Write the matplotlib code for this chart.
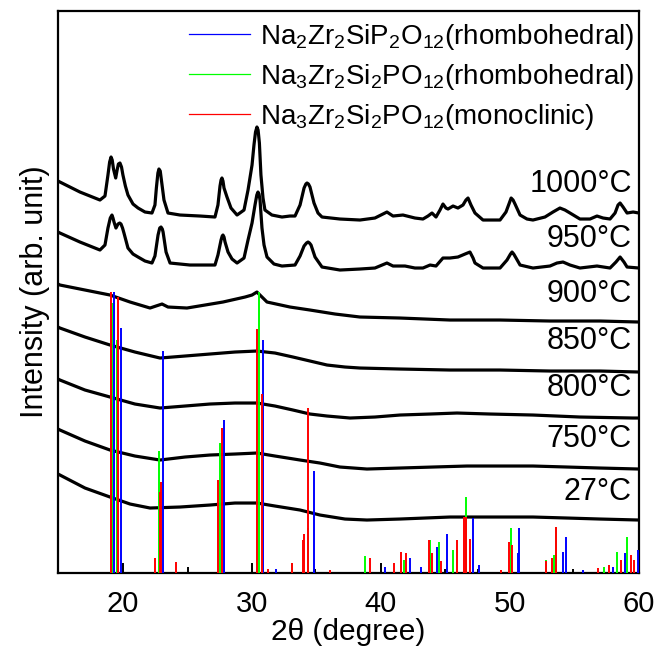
import matplotlib
matplotlib.use("Agg")
import matplotlib.pyplot as plt

plt.rcParams['font.family'] = ['Liberation Sans', 'DejaVu Sans']
plt.rcParams['mathtext.fontset'] = 'custom'
plt.rcParams['mathtext.rm'] = 'Liberation Sans'
plt.rcParams['mathtext.default'] = 'regular'

# ---------------- measured XRD traces (2theta, intensity in arb. units incl. offset) ----------------
x_1000 = [15.00, 15.15, 16.70, 18.25, 18.64, 18.87, 19.00, 19.11, 19.20, 19.30, 19.47, 19.58, 19.68, 19.80,
          19.92, 20.03, 20.22, 20.42, 20.81,
          21.20, 21.74, 22.28, 22.51, 22.62, 22.74, 22.82, 22.92, 23.02, 23.21, 23.52, 24.45, 26.00, 27.16, 27.39,
          27.55, 27.63, 27.70, 27.78, 27.86, 28.09, 28.40, 28.87, 29.41, 29.72, 30.03, 30.18, 30.30, 30.41,
          30.50, 30.60, 30.72, 30.88, 31.03,
          31.57, 32.35, 32.97, 33.36, 33.75, 34.06, 34.20, 34.29, 34.40, 34.52, 34.83, 35.14, 35.45, 36.84,
          38.39, 39.55,
          40.48, 40.95, 41.72, 42.65, 43.27, 43.66, 43.97, 44.28, 44.59, 44.82, 45.05, 45.21, 45.60, 45.98,
          46.37, 46.60, 46.76, 46.99, 47.30, 47.92, 49.24, 49.70, 49.93, 50.10, 50.25, 50.40, 50.79, 51.33,
          51.79, 52.72, 53.34, 53.88, 54.27, 54.66, 55.43, 56.21, 56.75, 57.22, 57.76, 58.15, 58.38, 58.54,
          58.77, 59.08, 59.55, 60.00]
y_1000 = [392, 391, 381, 373, 377, 398, 411, 416, 413, 404, 395, 403, 409, 410,
          406, 398, 387, 378, 369,
          365, 361, 360, 368, 385, 400, 404, 402, 392, 373, 360, 358, 357, 356, 368,
          387, 393, 395, 392, 385, 376, 365, 358, 363, 383, 408, 428, 441, 446,
          443, 430, 398, 375, 363,
          358, 356, 357, 357, 368, 385, 389, 390, 389, 386, 370, 360, 356, 354,
          353, 355,
          361, 357, 358, 355, 354, 357, 360, 356, 363, 369, 365, 364, 367, 365,
          368, 373, 375, 368, 360, 353, 353, 361, 369, 375, 373, 369, 358, 354,
          353, 356, 361, 365, 363, 360, 354, 354, 357, 355, 354, 360, 368, 370,
          366, 360, 361, 360]

x_950 = [15.00, 15.15, 16.70, 18.25, 18.64, 18.87, 19.05, 19.18, 19.26, 19.34, 19.49, 19.65, 19.78, 19.88,
         20.00, 20.11, 20.42, 20.81,
         21.20, 21.74, 22.28, 22.51, 22.75, 22.88, 22.98, 23.08, 23.14, 23.37, 23.68, 25.22, 27.16, 27.39,
         27.63, 27.72, 27.78, 27.86, 27.94, 28.17, 28.48, 28.87, 29.41, 29.72, 30.03, 30.26, 30.40, 30.49,
         30.57, 30.65, 30.80, 30.96, 31.19, 31.73,
         32.35, 33.36, 33.75, 34.06, 34.25, 34.37, 34.48, 34.60, 34.91, 35.45, 36.84, 38.39, 39.55, 40.48,
         40.95, 41.88,
         42.65, 43.27, 43.82, 44.28, 44.82, 45.36, 45.98, 46.53, 46.91, 47.15, 47.30, 47.92, 49.24, 49.78,
         50.05, 50.17, 50.30, 50.48, 50.79, 51.79, 53.11, 53.65, 54.12, 54.66, 55.43, 56.75, 57.76, 58.22,
         58.54, 58.84, 59.08, 60.00]
y_950 = [341, 340, 331, 323, 328, 345, 355, 358, 355, 351, 345, 349, 350, 349,
         345, 340, 325, 319,
         316, 312, 310, 317, 338, 345, 346, 344, 341, 321, 310, 308, 308, 318,
         333, 337, 338, 336, 331, 321, 314, 310, 315, 333, 350, 368, 378, 381,
         379, 373, 345, 328, 316, 309,
         307, 308, 317, 327, 330, 331, 330, 328, 316, 306, 303, 304, 305, 310,
         307, 307,
         305, 305, 308, 307, 315, 315, 316, 319, 321, 315, 310, 305, 305, 313,
         319, 321, 319, 315, 308, 305, 307, 310, 311, 308, 305, 307, 305, 311,
         316, 311, 306, 305]

x_900 = [15.00, 15.15, 17.09, 19.03, 20.58, 22.13, 22.59, 23.06, 23.52, 24.99, 26.39, 27.78, 29.49, 30.03,
         30.41, 30.80, 31.19, 32.97, 34.52, 36.46, 38.39, 41.49, 45.36, 49.24, 53.11, 56.98, 60.00]
y_900 = [289, 288, 283, 278, 271, 265, 267, 269, 266, 265, 268, 271, 276, 278,
         281, 276, 271, 266, 263, 259, 256, 255, 253, 253, 252, 252, 251]

x_850 = [15.00, 15.15, 17.09, 19.03, 20.96, 22.90, 24.84, 26.77, 28.71, 30.41, 31.81, 33.20, 34.52, 35.84,
         37.23, 38.39, 41.49, 45.36, 49.24, 53.11, 56.98, 60.00]
y_850 = [246, 245, 236, 228, 221, 215, 217, 219, 221, 222, 220, 216, 212, 208,
         206, 205, 204, 203, 203, 202, 202, 201]

x_800 = [15.00, 15.15, 17.09, 19.03, 20.96, 22.90, 24.84, 26.77, 28.71, 30.41, 31.81, 33.20, 34.52, 35.84,
         37.62, 39.55, 41.49, 43.82, 45.91, 48.46, 51.79, 55.43, 59.54, 60.00]
y_800 = [194, 193, 183, 176, 169, 165, 167, 169, 170, 170, 167, 163, 159, 157,
         155, 156, 158, 159, 160, 159, 158, 156, 155, 155]

x_750 = [15.00, 15.15, 17.09, 19.03, 20.96, 22.90, 24.84, 26.77, 28.71, 30.41, 31.81, 33.75, 35.29, 36.84,
         38.93, 41.49, 44.05, 46.68, 49.24, 51.79, 54.43, 56.98, 60.00]
y_750 = [144, 143, 132, 123, 117, 113, 116, 118, 119, 120, 117, 113, 110, 106,
         104, 105, 106, 107, 107, 107, 106, 105, 104]

x_27 = [15.00, 15.15, 17.09, 19.03, 20.58, 22.13, 24.45, 26.77, 28.71, 30.41, 31.81, 33.75, 35.29, 37.23,
        38.93, 41.49, 45.36, 49.24, 51.79, 54.43, 56.98, 60.00]
y_27 = [99, 98, 85, 76, 69, 65, 66, 68, 70, 70, 67, 63, 58, 54,
        53, 54, 56, 56, 56, 55, 54, 53]

trace_labels = ['1000°C', '950°C', '900°C', '850°C', '800°C', '750°C', '27°C']
label_y = [389, 334, 279, 232, 185, 134, 81]

# ---------------- reference patterns (2theta, relative intensity) ----------------
blue_pos = [19.36, 19.90, 23.10, 27.86, 30.88, 31.9, 34.83, 40.3, 42.3, 43.1, 44.33, 45.15, 47.17, 47.6,
            50.6, 50.71, 54.10, 54.35, 55.7, 58.0, 58.9, 59.90]
blue_h = [281, 245, 222, 153, 233, 4, 102, 6, 15, 6, 26, 39, 55, 8,
          20, 45, 21, 36, 3, 6, 20, 23]

green_pos = [19.20, 19.60, 22.82, 27.55, 30.55, 33.10, 34.40, 38.78, 41.80, 43.85, 44.54, 45.60, 46.58,
             50.11, 52.80, 53.40, 53.60, 57.3, 58.30, 59.10]
green_h = [270, 233, 122, 130, 281, 10, 45, 17, 13, 33, 31, 23, 76,
           45, 13, 18, 46, 6, 21, 36]

red_pos = [19.10, 19.67, 22.50, 22.90, 22.98, 24.14, 27.42, 27.68, 30.44, 30.78, 31.3, 33.10, 33.95, 34.05,
           34.34, 36.1, 39.17, 41.00, 41.54, 41.96, 43.76, 44.00, 44.70, 45.90, 46.45, 46.62, 46.90, 49.3,
           49.96, 50.20, 52.80, 53.30, 53.55, 56.8, 57.7, 58.6, 59.40, 59.60]
red_h = [281, 276, 15, 81, 91, 11, 93, 145, 244, 179, 4, 10, 33, 39,
         165, 3, 15, 10, 21, 20, 33, 20, 12, 33, 56, 56, 34, 3,
         31, 28, 12, 15, 46, 5, 8, 13, 18, 13]

black_pos = [20.06, 25.04, 30.00, 34.90, 40.00, 45.00, 47.50, 54.90]
black_h = [10, 6, 10, 4, 10, 4, 4, 4]

phase_labels = [r'Na$_2$Zr$_2$SiP$_2$O$_{12}$(rhombohedral)',
                r'Na$_3$Zr$_2$Si$_2$PO$_{12}$(rhombohedral)',
                r'Na$_3$Zr$_2$Si$_2$PO$_{12}$(monoclinic)']

# ---------------- plotting ----------------
fig = plt.figure(figsize=(6.56, 6.48), dpi=100)
ax = fig.add_axes([0.0884, 0.1157, 0.8856, 0.8673])

traces = [(x_1000, y_1000), (x_950, y_950), (x_900, y_900), (x_850, y_850),
          (x_800, y_800), (x_750, y_750), (x_27, y_27)]
for (xs, ys) in traces:
    ax.plot(xs, ys, color='black', lw=2.3, solid_joinstyle='round', zorder=2)

ax.vlines(black_pos, 0, black_h, color='black', lw=1.4, zorder=3)
ax.vlines(green_pos, 0, green_h, color='#00ff00', lw=1.4, zorder=3)
ax.vlines(blue_pos, 0, blue_h, color='#0000ff', lw=1.4, zorder=3)
ax.vlines(red_pos, 0, red_h, color='#ff0000', lw=1.4, zorder=3)

h1, = ax.plot([], [], color='#0000ff', lw=0.9)
h2, = ax.plot([], [], color='#00ff00', lw=0.9)
h3, = ax.plot([], [], color='#ff0000', lw=0.9)
ax.legend([h1, h2, h3], phase_labels, loc='upper right', bbox_to_anchor=(1.021, 1.01),
          frameon=False, fontsize=20, handlelength=2.2, handletextpad=0.35, labelspacing=0.36,
          borderaxespad=0.2)

for lab, yy in zip(trace_labels, label_y):
    ax.text(59.45, yy, lab, ha='right', va='center', fontsize=22)

ax.set_xlim(15, 60)
ax.set_ylim(0, 562)
ax.set_xticks([20, 30, 40, 50, 60])
ax.tick_params(axis='x', length=0, labelsize=21, pad=12)
ax.set_yticks([])
ax.set_xlabel('2θ (degree)', fontsize=21.5, labelpad=0)
ax.set_ylabel('Intensity (arb. unit)', fontsize=22, labelpad=6)
for s in ax.spines.values():
    s.set_linewidth(1.6)

fig.savefig('out.png', dpi=100)
